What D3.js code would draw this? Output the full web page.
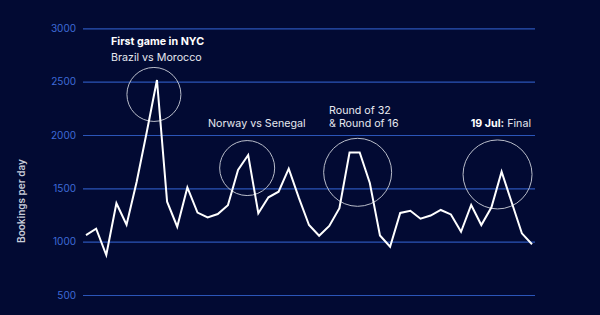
<!DOCTYPE html>
<html>
<head>
<meta charset="utf-8">
<script src="https://cdn.jsdelivr.net/npm/d3@7"></script>
<style>
  body { margin: 0; background: #020a33; }
  svg { display: block; font-family: Inter, "Liberation Sans", sans-serif; }
</style>
</head>
<body>
<svg id="canvas" width="600" height="315"></svg>
<script>
// daily bookings, one value per day (last peak = final on 19 Jul)
let bookings = [
  1062, 1121, 875, 1360, 1159, 1562, 2030, 2515, 1375, 1140,
  1508, 1273, 1228, 1259, 1341, 1672, 1812, 1266, 1416, 1468,
  1684, 1410, 1156, 1055, 1147, 1313, 1836, 1836, 1550, 1058,
  953, 1269, 1290, 1215, 1245, 1297, 1255, 1093, 1344, 1156,
  1322, 1656, 1367, 1078, 976
];
let yTicks = [500, 1000, 1500, 2000, 2500, 3000];

// circled events: day index and value of the circle centre
let eventDays = [6.7, 15.9, 26.8, 40.6];
let eventValues = [2380, 1690, 1650, 1630];
let eventRadius = [27, 27.5, 34, 34.5];

let canvas = d3.select("#canvas");

let x = d3.scaleLinear().domain([0, bookings.length - 1]).range([86, 532]);
let y = d3.scaleLinear().domain([500, 3000]).range([295, 28.3]);

canvas.append("rect").attr("width", 600).attr("height", 315).attr("fill", "#020a33");

let yAxis = canvas
  .append("g")
  .attr("transform", "translate(83,0)")
  .call(d3.axisLeft(y).tickValues(yTicks).tickSize(-452).tickPadding(7).tickFormat(d3.format("d")));

yAxis.select(".domain").remove();
yAxis.selectAll(".tick line").attr("stroke", "#2b55b8").attr("stroke-width", 1.2);
yAxis
  .selectAll(".tick text")
  .attr("fill", "#3f6bd8")
  .style("font-size", "10px")
  .style("font-family", "Inter, 'Liberation Sans', sans-serif");

canvas
  .append("text")
  .attr("transform", "translate(25,201) rotate(-90)")
  .attr("text-anchor", "middle")
  .attr("fill", "#c9cdd9")
  .style("font-size", "10px")
  .style("font-weight", "600")
  .text("Bookings per day");

// circles
canvas
  .selectAll(".event")
  .data(eventDays)
  .enter()
  .append("circle")
  .attr("class", "event")
  .attr("cx", (d) => x(d))
  .attr("cy", (d, i) => y(eventValues[i]))
  .attr("r", (d, i) => eventRadius[i])
  .attr("fill", "none")
  .attr("stroke", "#b9bdca")
  .attr("stroke-width", 1);

let line = d3
  .line()
  .x((d, i) => x(i))
  .y((d) => y(d));

canvas
  .append("path")
  .datum(bookings)
  .attr("d", line)
  .attr("fill", "none")
  .attr("stroke", "#ffffff")
  .attr("stroke-width", 2)
  .attr("stroke-linejoin", "miter");

// labels
let label = (px, py, anchor) => {
  return canvas
    .append("text")
    .attr("x", px)
    .attr("y", py)
    .attr("text-anchor", anchor)
    .attr("fill", "#ffffff")
    .style("font-size", "10.7px");
};

label(111, 45, "start").style("font-weight", "700").text("First game in NYC");
label(111, 60.7, "start").attr("fill", "#e6e8ef").text("Brazil vs Morocco");
label(208, 126.7, "start").attr("fill", "#e6e8ef").text("Norway vs Senegal");
label(329, 114, "start").attr("fill", "#e6e8ef").text("Round of 32");
label(329, 127, "start").attr("fill", "#e6e8ef").text("& Round of 16");

let finalLabel = label(531, 126.7, "end").attr("fill", "#e6e8ef");
finalLabel.append("tspan").style("font-weight", "700").attr("fill", "#ffffff").text("19 Jul:");
finalLabel.append("tspan").text(" Final");
</script>
</body>
</html>
